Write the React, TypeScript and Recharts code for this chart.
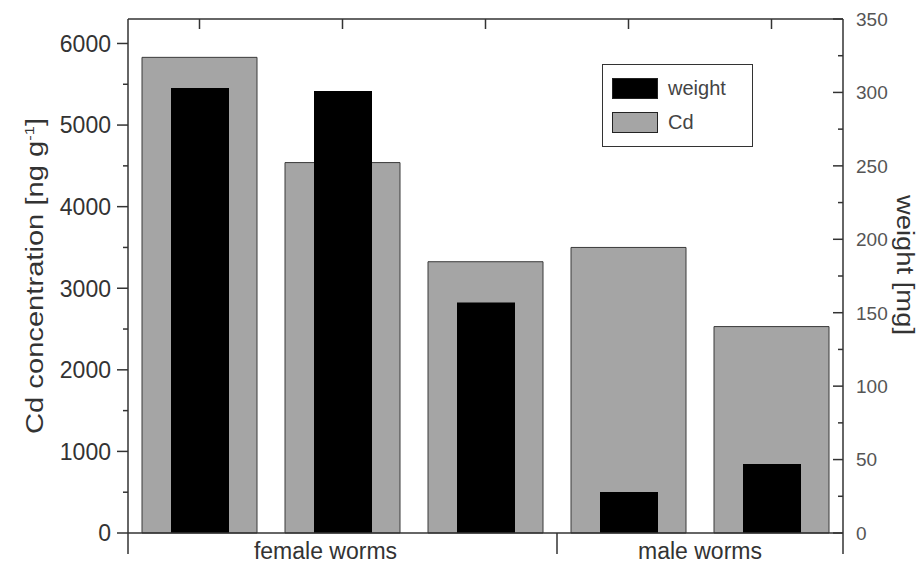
import React from "react";
import { BarChart, Bar, XAxis, YAxis, Legend } from "recharts";

// one bar pair per worm sample, grouped by sex
const categories = ["female 1", "female 2", "female 3", "male 1", "male 2"];
const groups = ["female worms", "female worms", "female worms", "male worms", "male worms"];
const cdValues = [5830, 4540, 3325, 3500, 2530];
const weightValues = [303, 301, 157, 28, 47];

const cdTicks = [0, 500, 1000, 1500, 2000, 2500, 3000, 3500, 4000, 4500, 5000, 5500, 6000];
const weightTicks = [0, 25, 50, 75, 100, 125, 150, 175, 200, 225, 250, 275, 300, 325, 350];
const legendOrder = ["weight", "Cd"];

const data = categories.map((name, i) => ({
  name,
  group: groups[i],
  cd: cdValues[i],
  weight: weightValues[i],
}));

const AXIS = "#333";
const GRAY = "#a5a5a5";
const FONT = "'Liberation Sans', Arial, sans-serif";

function CdTick(props: any) {
  const { x, y, payload } = props;
  const major = payload.value % 1000 === 0;
  return (
    <g>
      <line x1={x - (major ? 11 : 5)} x2={x} y1={y} y2={y} stroke={AXIS} strokeWidth={1.5} />
      {major && (
        <text x={x - 17} y={y} dy="0.36em" textAnchor="end" fontSize={23} fill="#333" fontFamily={FONT}>
          {payload.value}
        </text>
      )}
    </g>
  );
}

function WeightTick(props: any) {
  const { x, y, payload } = props;
  const major = payload.value % 50 === 0;
  return (
    <g>
      <line x1={x - (major ? 10 : 5)} x2={x} y1={y} y2={y} stroke={AXIS} strokeWidth={1.5} />
      {major && (
        <text x={x + 13} y={y} dy="0.36em" textAnchor="start" fontSize={19} fill="#555" fontFamily={FONT}>
          {payload.value}
        </text>
      )}
    </g>
  );
}

// bar background slot: only a small tick hanging from the top frame
function TopTick(props: any) {
  const { x, y, width } = props;
  const cx = x + width / 2;
  return <line x1={cx} x2={cx} y1={y} y2={y + 10} stroke={AXIS} strokeWidth={1.5} />;
}

// group labels under the axis, with divider ticks between the groups
function GroupTick(props: any) {
  const { x, y, payload, index } = props;
  const off = payload && payload.offset ? payload.offset : 71.5;
  const g = groups[index];
  const first = index === 0 || groups[index - 1] !== g;
  const last = index === groups.length - 1;
  const n = groups.filter((v) => v === g).length;
  const shift = g === "female worms" ? -17 : 0;
  return (
    <g>
      {first && <line x1={x - off} x2={x - off} y1={y} y2={y + 21} stroke={AXIS} strokeWidth={1.5} />}
      {last && <line x1={x + off} x2={x + off} y1={y} y2={y + 21} stroke={AXIS} strokeWidth={1.5} />}
      {first && (
        <text x={x + (n - 1) * off + shift} y={y + 26} textAnchor="middle" fontSize={23} fill="#333" fontFamily={FONT}>
          {g}
        </text>
      )}
    </g>
  );
}

function CdTitle(props: any) {
  const vb = props.viewBox || { x: 0, y: 19, width: 128, height: 514 };
  const cx = vb.x + 35;
  const cy = vb.y + vb.height / 2;
  return (
    <text
      transform={`translate(${cx},${cy}) rotate(-90)`}
      textAnchor="middle"
      dy="0.36em"
      fontSize={23}
      fill="#333"
      fontFamily={FONT}
      textLength={316}
      lengthAdjust="spacingAndGlyphs"
    >
      <tspan>Cd concentration [ng g</tspan>
      <tspan dy={-9} fontSize={13}>-1</tspan>
      <tspan dy={9}>]</tspan>
    </text>
  );
}

function WeightTitle(props: any) {
  const vb = props.viewBox || { x: 843, y: 19, width: 76, height: 514 };
  const cx = vb.x + 62;
  const cy = vb.y + vb.height / 2 - 11;
  return (
    <text
      transform={`translate(${cx},${cy}) rotate(90)`}
      textAnchor="middle"
      dy="0.36em"
      fontSize={23}
      fill="#333"
      fontFamily={FONT}
      textLength={140}
      lengthAdjust="spacingAndGlyphs"
    >
      weight [mg]
    </text>
  );
}

function LegendBox(props: any) {
  const items = [...(props.payload || [])].sort(
    (a: any, b: any) => legendOrder.indexOf(a.value) - legendOrder.indexOf(b.value)
  );
  return (
    <div
      style={{
        position: "relative",
        width: 151,
        height: 83,
        boxSizing: "border-box",
        border: "1.5px solid #333",
        background: "#fff",
        fontFamily: FONT,
      }}
    >
      {items.map((it: any, i: number) => (
        <div key={it.value} style={{ position: "absolute", left: 9, top: 12 + i * 34, display: "flex", alignItems: "center" }}>
          <div style={{ width: 46, height: 21, boxSizing: "border-box", background: it.color, border: "1.5px solid #222" }} />
          <span style={{ marginLeft: 10, fontSize: 20, color: "#444" }}>{it.value}</span>
        </div>
      ))}
    </div>
  );
}

export default function App() {
  return (
    <div style={{ position: "absolute", left: 0, top: 0, background: "#fff" }}>
      <BarChart
        width={919}
        height={563}
        data={data}
        margin={{ top: 18, right: 0, bottom: 0, left: 0 }}
        style={{ fontFamily: FONT }}
      >
        <XAxis
          xAxisId="bottom"
          dataKey="name"
          height={30}
          axisLine={{ stroke: AXIS, strokeWidth: 1.5 }}
          tickLine={false}
          tickSize={0}
          tickMargin={0}
          interval={0}
          tick={<GroupTick />}
        />
        <XAxis
          xAxisId="top"
          dataKey="name"
          orientation="top"
          height={1}
          axisLine={{ stroke: AXIS, strokeWidth: 1.5 }}
          tickLine={false}
          tick={false}
        />
        <YAxis
          yAxisId="cd"
          orientation="left"
          width={128}
          domain={[0, 6300]}
          ticks={cdTicks}
          interval={0}
          axisLine={{ stroke: AXIS, strokeWidth: 1.5 }}
          tickLine={false}
          tickSize={0}
          tickMargin={0}
          tick={<CdTick />}
          label={{ content: <CdTitle /> } as any}
        />
        <YAxis
          yAxisId="w"
          orientation="right"
          width={76}
          domain={[0, 350]}
          ticks={weightTicks}
          interval={0}
          axisLine={{ stroke: AXIS, strokeWidth: 1.5 }}
          tickLine={false}
          tickSize={0}
          tickMargin={0}
          tick={<WeightTick />}
          label={{ content: <WeightTitle /> } as any}
        />
        <Legend
          layout="vertical"
          align="center"
          verticalAlign="middle"
          wrapperStyle={{ position: "absolute", left: 602, top: 64, width: 151, height: 83 }}
          content={<LegendBox />}
        />
        <Bar
          name="Cd"
          dataKey="cd"
          xAxisId="bottom"
          yAxisId="cd"
          barSize={115}
          fill={GRAY}
          stroke="#3a3a3a"
          strokeWidth={1}
          background={TopTick}
          isAnimationActive={false}
        />
        <Bar
          name="weight"
          dataKey="weight"
          xAxisId="top"
          yAxisId="w"
          barSize={58}
          fill="#000"
          isAnimationActive={false}
        />
      </BarChart>
    </div>
  );
}
